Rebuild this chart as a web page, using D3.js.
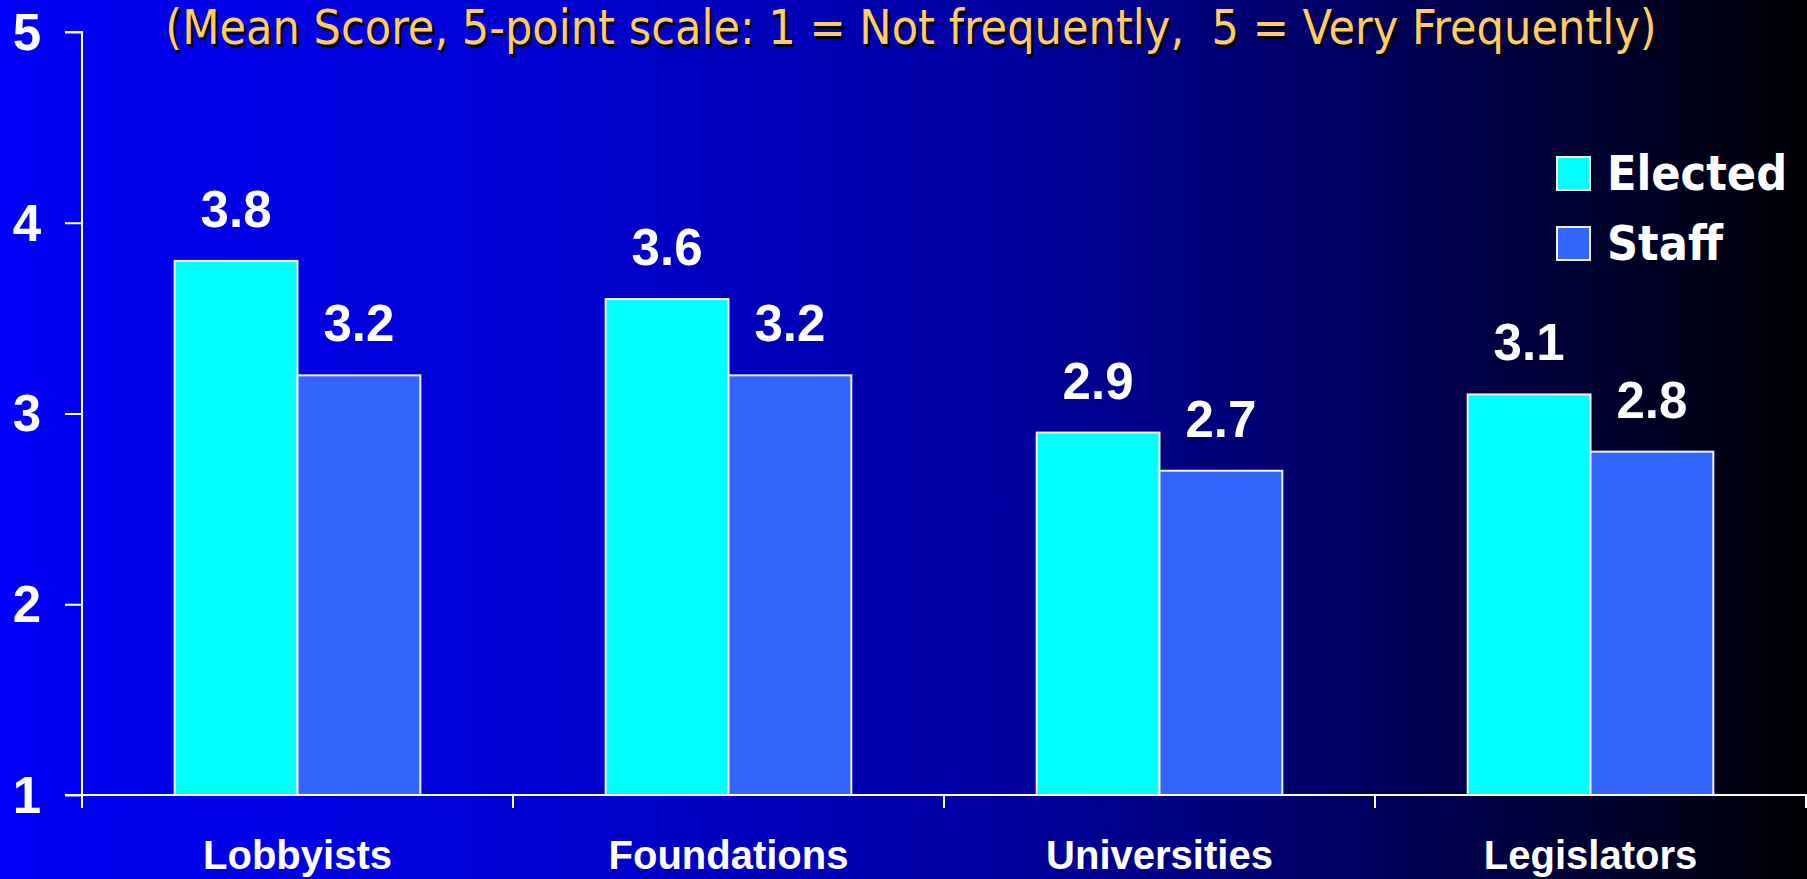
<!DOCTYPE html>
<html>
<head>
<meta charset="utf-8">
<script src="https://cdn.jsdelivr.net/npm/d3@7"></script>
<style>
  html, body { margin: 0; padding: 0; overflow: hidden; background: #000; }
  svg { display: block; }
</style>
</head>
<body>
<div id="chart"></div>
<script>
const categories = ["Lobbyists", "Foundations", "Universities", "Legislators"]
const seriesNames = ["Elected", "Staff"]
const elected = [3.8, 3.6, 2.9, 3.1]
const staff = [3.2, 3.2, 2.7, 2.8]
const yTicks = [1, 2, 3, 4, 5]
const title = "(Mean Score, 5-point scale: 1 = Not frequently,  5 = Very Frequently)"

const width = 1807
const height = 879
const colors = { Elected: "#00FFFF", Staff: "#3366FF" }

const rows = categories.map((c, i) => ({ category: c, Elected: elected[i], Staff: staff[i] }))

const svg = d3.select("#chart")
  .append("svg")
  .attr("width", width)
  .attr("height", height)

// background: blue fading to black left -> right
const grad = svg.append("defs").append("linearGradient")
  .attr("id", "bg")
  .attr("x1", "0%").attr("x2", "100%")
  .attr("y1", "0%").attr("y2", "0%")
const stops = [[0, "#0000f8"], [0.3, "#0000d2"], [0.55, "#0000a2"], [0.75, "#000062"], [0.9, "#00002a"], [1, "#000005"]]
grad.selectAll("stop")
  .data(stops)
  .join("stop")
  .attr("offset", d => d[0])
  .attr("stop-color", d => d[1])

svg.append("rect")
  .attr("width", width)
  .attr("height", height)
  .attr("fill", "url(#bg)")

const plotLeft = 82
const plotRight = 1806
const plotTop = 32
const plotBottom = 795

const x0 = d3.scaleBand()
  .domain(categories)
  .range([plotLeft, plotRight])
  .padding(0)

const groupW = x0.bandwidth() * 0.57
const x1 = d3.scaleBand()
  .domain(seriesNames)
  .range([0, groupW])
  .padding(0)

const y = d3.scaleLinear()
  .domain([1, 5])
  .range([plotBottom, plotTop])

// bars
const groups = svg.append("g")
  .selectAll("g")
  .data(rows)
  .join("g")
  .attr("transform", d => `translate(${x0(d.category) + (x0.bandwidth() - groupW) / 2},0)`)

groups.selectAll("rect")
  .data(d => seriesNames.map(s => ({ key: s, value: d[s] })))
  .join("rect")
  .attr("x", d => x1(d.key))
  .attr("y", d => y(d.value))
  .attr("width", x1.bandwidth())
  .attr("height", d => y(1) - y(d.value))
  .attr("fill", d => colors[d.key])
  .attr("stroke", "#f0f0f0")
  .attr("stroke-width", 2)

groups.selectAll("text")
  .data(d => seriesNames.map(s => ({ key: s, value: d[s] })))
  .join("text")
  .attr("x", d => x1(d.key) + x1.bandwidth() / 2)
  .attr("y", d => y(d.value) - 34)
  .attr("text-anchor", "middle")
  .attr("fill", "#fff")
  .attr("font-family", "Liberation Sans, Arial, sans-serif")
  .attr("font-weight", "bold")
  .attr("font-size", 51)
  .text(d => d.value.toFixed(1))

// y axis
const yAxis = svg.append("g")
  .attr("transform", `translate(${plotLeft},0)`)
  .call(d3.axisLeft(y).tickValues(yTicks).tickFormat(d3.format("d")).tickSize(17).tickPadding(24))
yAxis.select(".domain").attr("stroke", "#fff").attr("stroke-width", 2)
  .attr("d", `M-17,${plotTop}H0V${plotBottom + 13}`)
yAxis.selectAll(".tick line").attr("stroke", "#fff").attr("stroke-width", 2)
yAxis.selectAll(".tick text")
  .attr("fill", "#fff")
  .attr("font-family", "Liberation Sans, Arial, sans-serif")
  .attr("font-weight", "bold")
  .attr("font-size", 51)
  .attr("dy", "0.34em")

// x axis: labels centred in bands, ticks on band edges
const xAxis = svg.append("g")
  .attr("transform", `translate(0,${plotBottom})`)
  .call(d3.axisBottom(x0).tickSize(0).tickPadding(46))
xAxis.select(".domain").remove()
xAxis.selectAll(".tick text")
  .attr("fill", "#fff")
  .attr("font-family", "Liberation Sans, Arial, sans-serif")
  .attr("font-weight", "bold")
  .attr("font-size", 40)

svg.append("line")
  .attr("x1", plotLeft - 17).attr("x2", width)
  .attr("y1", plotBottom).attr("y2", plotBottom)
  .attr("stroke", "#fff").attr("stroke-width", 2)

svg.append("g")
  .selectAll("line")
  .data(categories.slice(1).concat(["end"]))
  .join("line")
  .attr("x1", d => d === "end" ? plotRight : x0(d))
  .attr("x2", d => d === "end" ? plotRight : x0(d))
  .attr("y1", plotBottom)
  .attr("y2", plotBottom + 13)
  .attr("stroke", "#fff").attr("stroke-width", 2)

// title with drop shadow
const titleFont = "'DejaVu Sans Condensed', 'DejaVu Sans', sans-serif"
svg.append("text")
  .attr("x", 911 + 2.5)
  .attr("y", 44 + 2.5)
  .attr("text-anchor", "middle")
  .attr("font-family", titleFont)
  .attr("font-stretch", "condensed")
  .attr("font-size", 48)
  .attr("fill", "#000")
  .style("white-space", "pre")
  .text(title)
svg.append("text")
  .attr("x", 911)
  .attr("y", 44)
  .attr("text-anchor", "middle")
  .attr("font-family", titleFont)
  .attr("font-stretch", "condensed")
  .attr("font-size", 48)
  .attr("fill", "#ffcc66")
  .style("white-space", "pre")
  .text(title)

// legend
const legend = svg.append("g")
  .attr("transform", "translate(1557,157)")
  .selectAll("g")
  .data(seriesNames)
  .join("g")
  .attr("transform", (d, i) => `translate(0,${i * 70})`)

legend.append("rect")
  .attr("width", 33)
  .attr("height", 33)
  .attr("fill", d => colors[d])
  .attr("stroke", "#f0f0f0")
  .attr("stroke-width", 2)

legend.append("text")
  .attr("x", 50)
  .attr("y", 33)
  .attr("fill", "#fff")
  .attr("font-family", titleFont)
  .attr("font-stretch", "condensed")
  .attr("font-weight", "bold")
  .attr("font-size", 48)
  .text(d => d)
</script>
</body>
</html>
